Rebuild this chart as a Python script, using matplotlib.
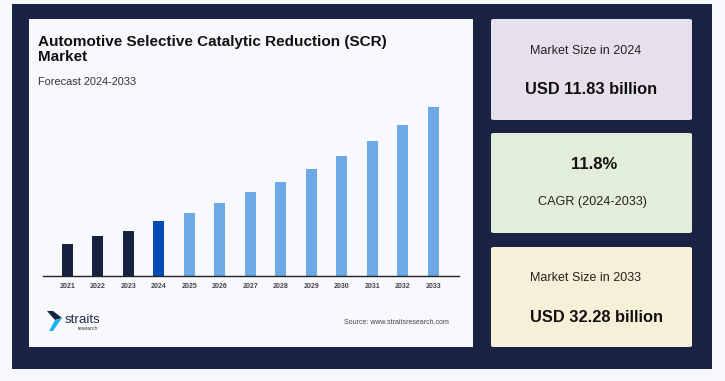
import matplotlib.pyplot as plt
from matplotlib.patches import FancyBboxPatch, Rectangle, Polygon

plt.rcParams['font.family'] = ['Liberation Sans', 'DejaVu Sans']

# market size in USD billion
years = ['2021', '2022', '2023', '2024', '2025', '2026', '2027',
         '2028', '2029', '2030', '2031', '2032', '2033']
values = [7.70, 9.19, 10.09, 11.83, 13.26, 15.17, 17.08,
          18.93, 21.21, 23.60, 26.23, 29.05, 32.28]
bar_colors = ['#172241'] * 3 + ['#004bb5'] + ['#6ca9e6'] * 9

W, H = 725, 381
fig = plt.figure(figsize=(W / 100, H / 100), dpi=100)
fig.patch.set_facecolor('#f7f8fc')


def box(x0, y0, x1, y1):
    # pixel box (top-left origin) -> figure fraction rect
    return [x0 / W, 1 - y1 / H, (x1 - x0) / W, (y1 - y0) / H]


def fx(x):
    return x / W


def fy(y):
    return 1 - y / H


# dark frame
r = box(12, 4, 712, 369)
fig.patches.append(Rectangle((r[0], r[1]), r[2], r[3], transform=fig.transFigure,
                             facecolor='#1a2343', edgecolor='none', zorder=0))
# white chart panel
r = box(29, 19, 473, 347)
fig.patches.append(Rectangle((r[0], r[1]), r[2], r[3], transform=fig.transFigure,
                             facecolor='#f8f9fd', edgecolor='none', zorder=1))

# cards on the right
cards = [(19, 120, '#e6e0ec'), (133, 233, '#e2edda'), (247, 347, '#f7efd7')]
for top, bot, col in cards:
    r = box(491, top, 692, bot)
    fig.patches.append(FancyBboxPatch((r[0], r[1]), r[2], r[3],
                                      boxstyle='round,pad=0,rounding_size=0.004',
                                      transform=fig.transFigure, facecolor=col,
                                      edgecolor='none', zorder=1))

fig.text(fx(586), fy(51), 'Market Size in 2024', ha='center', va='center',
         fontsize=9, color='#222222')
fig.text(fx(591), fy(89), 'USD 11.83 billion', ha='center', va='center',
         fontsize=11.8, fontweight='bold', color='#111111')
fig.text(fx(594), fy(164), '11.8%', ha='center', va='center',
         fontsize=12, fontweight='bold', color='#111111')
fig.text(fx(593), fy(202), 'CAGR (2024-2033)', ha='center', va='center',
         fontsize=9.1, color='#222222')
fig.text(fx(586), fy(278), 'Market Size in 2033', ha='center', va='center',
         fontsize=9, color='#222222')
fig.text(fx(596), fy(318), 'USD 32.28 billion', ha='center', va='center',
         fontsize=11.8, fontweight='bold', color='#111111')

# title block
fig.text(fx(38), fy(42), 'Automotive Selective Catalytic Reduction (SCR)',
         ha='left', va='center', fontsize=11, fontweight='bold', color='#111111')
fig.text(fx(38), fy(57), 'Market',
         ha='left', va='center', fontsize=11, fontweight='bold', color='#111111')
fig.text(fx(38), fy(82), 'Forecast 2024-2033', ha='left', va='center',
         fontsize=7.9, color='#333333')

# bar chart
ax = fig.add_axes(box(43.3, 100, 459.3, 275.7))
ax.set_zorder(5)
ax.set_facecolor('none')
x = list(range(len(years)))
ax.bar(x, values, width=0.36, color=bar_colors, zorder=2)
ax.set_ylim(2.07, 33.6)
ax.set_xlim(-0.79, 12.85)
for s in ['top', 'right', 'left']:
    ax.spines[s].set_visible(False)
ax.spines['bottom'].set_color('#222222')
ax.spines['bottom'].set_linewidth(1.0)
ax.set_yticks([])
ax.set_xticks(x)
ax.set_xticklabels(years, fontsize=5, fontweight='bold', color='#444444')
ax.tick_params(axis='x', length=0, pad=5)

# logo
fig.patches.append(Polygon([(fx(47), fy(311)), (fx(53), fy(311)), (fx(62), fy(318)),
                            (fx(55), fy(320))], closed=True, transform=fig.transFigure,
                           facecolor='#172241', edgecolor='none', zorder=3))
fig.patches.append(Polygon([(fx(55), fy(320)), (fx(62), fy(318)), (fx(53), fy(331)),
                            (fx(49), fy(331))], closed=True, transform=fig.transFigure,
                           facecolor='#19b4f0', edgecolor='none', zorder=3))
fig.text(fx(65), fy(320), 'straits', ha='left', va='center', fontsize=9.6,
         color='#222a44')
fig.text(fx(78), fy(329), 'research', ha='left', va='center', fontsize=3.8,
         color='#333333')

fig.text(fx(449), fy(323), 'Source: www.straitsresearch.com', ha='right', va='center',
         fontsize=5, color='#444444')

fig.savefig('out.png', dpi=100, facecolor=fig.get_facecolor())
